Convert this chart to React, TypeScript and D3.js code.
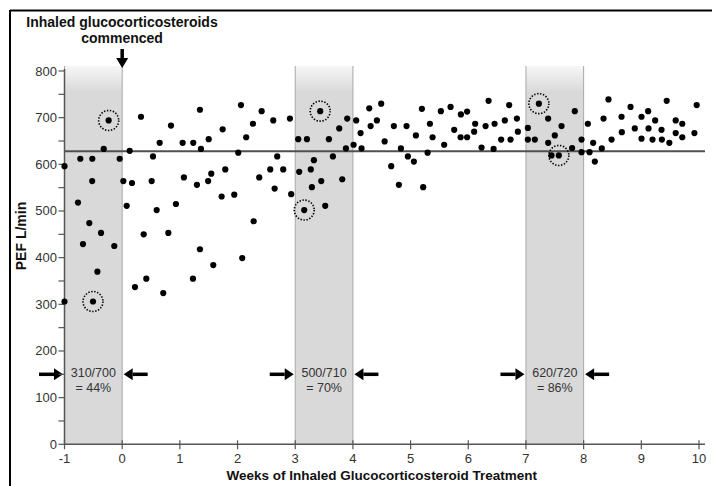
import React from "react";
import * as d3 from "d3";

const weeks = [
  -1, -1, -0.766, -0.726, -0.68, -0.57, -0.518, -0.52, -0.43, -0.367, -0.32, -0.234, -0.506, -0.137, -0.043,
  0.02, 0.078, 0.13, 0.17, 0.222, 0.326, 0.373, 0.418, 0.511, 0.534, 0.598, 0.65, 0.712, 0.8, 0.846, 0.932,
  1.048, 1.07, 1.232, 1.227, 1.296, 1.348, 1.348, 1.366, 1.49, 1.5, 1.544, 1.579, 1.724, 1.742, 1.787, 1.943,
  2.012, 2.059, 2.081, 2.15, 2.267, 2.279, 2.376, 2.418, 2.567, 2.619, 2.643, 2.688, 2.792, 2.908, 2.93,
  3.052, 3.069, 3.156, 3.203, 3.27, 3.289, 3.324, 3.433, 3.451, 3.52, 3.584, 3.653, 3.763, 3.815, 3.879, 3.901,
  4.012, 4.057, 4.133, 4.15, 4.283, 4.307, 4.416, 4.49, 4.55, 4.664, 4.71, 4.797, 4.832, 4.93, 4.953,
  5.057, 5.092, 5.196, 5.218, 5.295, 5.335, 5.381, 5.525, 5.582, 5.693, 5.756, 5.872, 5.867, 5.98, 5.98,
  6.102, 6.12, 6.23, 6.3, 6.352, 6.439, 6.456, 6.57, 6.634, 6.709, 6.733, 6.843, 6.86,
  7.033, 7.033, 7.154, 7.224, 7.385, 7.385, 7.5, 7.617, 7.443, 7.57, 7.8, 7.847, 7.963, 7.963,
  8.073, 8.102, 8.165, 8.194, 8.315, 8.345, 8.431, 8.484, 8.657, 8.662, 8.813, 8.887,
  9.003, 9.003, 9.118, 9.125, 9.194, 9.24, 9.35, 9.356, 9.44, 9.486, 9.596, 9.596, 9.71, 9.71, 9.92, 9.96,
];

const pef = [
  596, 306, 518, 612, 429, 474, 612, 564, 370, 453, 633, 694, 306, 425, 612,
  564, 511, 629, 560, 337, 702, 450, 355, 564, 617, 502, 646, 324, 453, 683, 515,
  646, 572, 646, 355, 556, 717, 418, 633, 564, 654, 580, 384, 531, 675, 589, 535,
  625, 727, 399, 658, 687, 478, 572, 714, 589, 694, 548, 617, 589, 698, 536,
  654, 584, 502, 654, 589, 551, 609, 714, 564, 511, 654, 617, 677, 568, 634, 698,
  642, 694, 667, 634, 720, 682, 694, 730, 649, 596, 682, 556, 634, 682, 617,
  606, 662, 719, 551, 625, 687, 658, 714, 642, 723, 674, 707, 658, 713, 658,
  670, 687, 636, 682, 736, 633, 687, 653, 694, 727, 653, 698, 670,
  678, 653, 653, 730, 698, 646, 662, 682, 619, 619, 635, 714, 653, 626,
  687, 626, 646, 606, 634, 698, 739, 653, 702, 669, 723, 677,
  702, 655, 714, 677, 653, 694, 674, 653, 736, 646, 694, 667, 687, 658, 667, 727,
];

const circledWeeks = [-0.506, -0.234, 3.156, 3.433, 7.224, 7.57];
const circledPef = [306, 694, 502, 714, 730, 619];

const windowStarts = [-1, 3, 7];
const windowLines1 = ["310/700", "500/710", "620/720"];
const windowLines2 = ["= 44%", "= 70%", "= 86%"];

const referenceLevel = 628;
const xTicks = [-1, 0, 1, 2, 3, 4, 5, 6, 7, 8, 9, 10];
const yMajorTicks = [0, 100, 200, 300, 400, 500, 600, 700, 800];
const yMinorTicks = [50, 150, 250, 350, 450, 550, 650, 750];

const FONT = "'Liberation Sans', Arial, Helvetica, sans-serif";

export default function App() {
  const W = 712;
  const H = 486;
  const x = d3.scaleLinear().domain([-1, 10]).range([64.5, 699]);
  const y = d3.scaleLinear().domain([0, 800]).range([444.3, 71]);
  const regionTop = 66;
  const arrowY = y(150);

  const hArrow = (tipX: number, dir: number, key: string) => {
    // dir = +1 points right, -1 points left
    const len = 24;
    const head = 9;
    const startX = tipX - dir * len;
    const baseX = tipX - dir * head;
    return (
      <g key={key}>
        <line x1={startX} y1={arrowY} x2={baseX} y2={arrowY} stroke="#000" strokeWidth={3.5} />
        <path
          d={`M${tipX},${arrowY} L${baseX},${arrowY - 6} L${baseX},${arrowY + 6} Z`}
          fill="#000"
        />
      </g>
    );
  };

  return (
    <svg
      width={W}
      height={H}
      style={{ position: "absolute", left: 0, top: 0, background: "#fff" }}
      fontFamily={FONT}
    >
      <defs>
        <linearGradient id="shade" x1="0" y1="0" x2="0" y2="1">
          <stop offset="0" stopColor="#f6f6f6" />
          <stop offset="0.07" stopColor="#d9d9d9" />
          <stop offset="1" stopColor="#d9d9d9" />
        </linearGradient>
      </defs>
      <rect x={0} y={0} width={W} height={H} fill="#fff" />
      {/* frame */}
      <line x1={10} y1={10.5} x2={W} y2={10.5} stroke="#000" strokeWidth={2} />
      <line x1={10} y1={10} x2={10} y2={H} stroke="#000" strokeWidth={2} />

      {/* shaded windows */}
      {windowStarts.map((s, i) => (
        <g key={"w" + i}>
          <rect
            x={x(s)}
            y={regionTop}
            width={x(s + 1) - x(s)}
            height={y(0) - regionTop}
            fill="url(#shade)"
          />
          <line x1={x(s)} y1={regionTop} x2={x(s)} y2={y(0)} stroke="#a8a8a8" strokeWidth={1} />
          <line x1={x(s + 1)} y1={regionTop} x2={x(s + 1)} y2={y(0)} stroke="#a8a8a8" strokeWidth={1} />
          <text x={(x(s) + x(s + 1)) / 2} y={377} textAnchor="middle" fontSize={12.5} fill="#333">
            {windowLines1[i]}
          </text>
          <text x={(x(s) + x(s + 1)) / 2} y={392} textAnchor="middle" fontSize={12.5} fill="#333">
            {windowLines2[i]}
          </text>
          {hArrow(x(s) - 1.5, 1, "a" + i)}
          {hArrow(x(s + 1) + 1.5, -1, "b" + i)}
        </g>
      ))}

      {/* reference line */}
      <line
        x1={x(-1)}
        x2={705}
        y1={y(referenceLevel)}
        y2={y(referenceLevel)}
        stroke="#505050"
        strokeWidth={2}
      />

      {/* axes */}
      <line x1={x(-1)} y1={y(0)} x2={705} y2={y(0)} stroke="#555" strokeWidth={1.5} />
      <line x1={x(-1)} y1={y(0)} x2={x(-1)} y2={y(800) - 2} stroke="#555" strokeWidth={1.5} />
      {yMajorTicks.map((t) => (
        <g key={"ym" + t}>
          <line x1={x(-1) - 6} x2={x(-1)} y1={y(t)} y2={y(t)} stroke="#555" strokeWidth={1.2} />
          <text x={57} y={y(t) + 4.5} textAnchor="end" fontSize={13} fill="#333">
            {t}
          </text>
        </g>
      ))}
      {yMinorTicks.map((t) => (
        <line key={"yn" + t} x1={x(-1) - 6} x2={x(-1)} y1={y(t)} y2={y(t)} stroke="#555" strokeWidth={1.2} />
      ))}
      {xTicks.map((t) => (
        <g key={"x" + t}>
          <line x1={x(t)} x2={x(t)} y1={y(0) - 4} y2={y(0) + 5} stroke="#555" strokeWidth={1.2} />
          <text x={x(t)} y={463} textAnchor="middle" fontSize={13} fill="#333">
            {t}
          </text>
        </g>
      ))}

      {/* axis titles */}
      <text x={(x(-1) + x(10)) / 2} y={480} textAnchor="middle" fontSize={13.5} fontWeight="bold" fill="#111">
        Weeks of Inhaled Glucocorticosteroid Treatment
      </text>
      <text
        transform={`translate(26,236) rotate(-90)`}
        textAnchor="middle"
        fontSize={14}
        fontWeight="bold"
        fill="#111"
      >
        PEF L/min
      </text>

      {/* top annotation */}
      <text x={122} y={27} textAnchor="middle" fontSize={14} fontWeight="bold" fill="#111">
        Inhaled glucocorticosteroids
      </text>
      <text x={122} y={43} textAnchor="middle" fontSize={14} fontWeight="bold" fill="#111">
        commenced
      </text>
      <line x1={x(0)} x2={x(0)} y1={49} y2={59} stroke="#000" strokeWidth={3.5} />
      <path d={`M${x(0)},${68} L${x(0) - 6},${58} L${x(0) + 6},${58} Z`} fill="#000" />

      {/* data points */}
      {weeks.map((w, i) => (
        <circle key={"p" + i} cx={x(w)} cy={y(pef[i])} r={3.1} fill="#000" />
      ))}

      {/* dotted circles */}
      {circledWeeks.map((w, i) => (
        <circle
          key={"c" + i}
          cx={x(w)}
          cy={y(circledPef[i])}
          r={10}
          fill="none"
          stroke="#000"
          strokeWidth={1.6}
          strokeDasharray="1.4,1.6"
        />
      ))}
    </svg>
  );
}
